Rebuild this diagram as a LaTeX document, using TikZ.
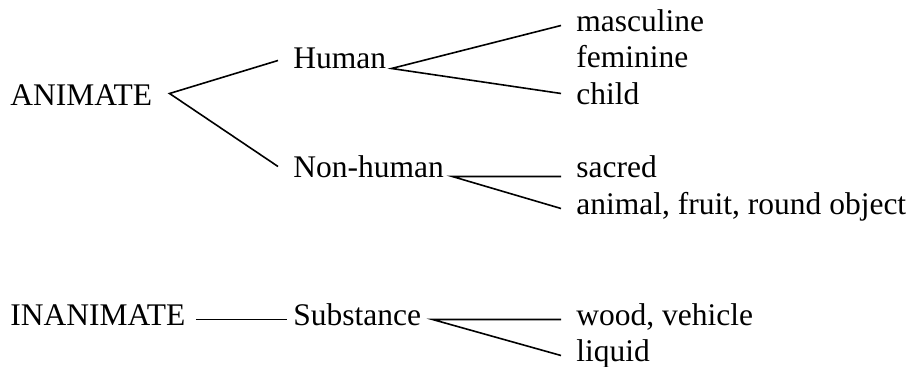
\documentclass[tikz,border=0pt]{standalone}
\usepackage{fontspec}
\setmainfont{Liberation Serif}
\usetikzlibrary{positioning}

\begin{document}
\begin{tikzpicture}[
  x=0.5pt, y=-0.5pt,
  cat/.style={anchor=base west, inner xsep=7.5pt, inner ysep=0pt, text height=0.75em, text depth=0.1em, font=\fontsize{15.75}{19}\selectfont},
  branch/.style={line width=0.8pt}
]
  \useasboundingbox (0,0) rectangle (915,367);

  % animate
  \node[cat] (animate) at (-5, 106) {ANIMATE};
  \node[cat] (human) at (278, 69) {Human};
  \node[cat] (nonhuman) at (278, 178) {Non-human};
  \node[cat] (masc) at (561, 32) {masculine};
  \node[cat] (fem) at (561, 68) {feminine};
  \node[cat] (child) at (561, 105) {child};
  \node[cat] (sacred) at (561, 178) {sacred};
  \node[cat] (animal) at (561, 215) {animal, fruit, round object};

  % inanimate
  \node[cat] (inanimate) at (-5, 326) {INANIMATE};
  \node[cat] (substance) at (278, 326) {Substance};
  \node[cat] (wood) at (561, 326) {wood, vehicle};
  \node[cat] (liquid) at (561, 362) {liquid};

  \draw[branch] ([yshift=1pt]human.west) -- ([xshift=1pt, yshift=3pt]animate.east) -- ([yshift=2.5pt]nonhuman.west);
  \draw[branch] (masc.west) -- ([xshift=-5pt, yshift=-3pt]human.east) -- ([yshift=2.5pt]child.west);
  \draw[branch] ([yshift=-2.5pt]sacred.west) -- ([xshift=-3.5pt, yshift=-2.5pt]nonhuman.east) -- (animal.west);
  \draw[branch] ([xshift=-2.5pt]inanimate.east) -- ([xshift=4.5pt]substance.west);
  \draw[branch] (wood.west) -- ([xshift=-2pt]substance.east) -- (liquid.west);
\end{tikzpicture}
\end{document}
